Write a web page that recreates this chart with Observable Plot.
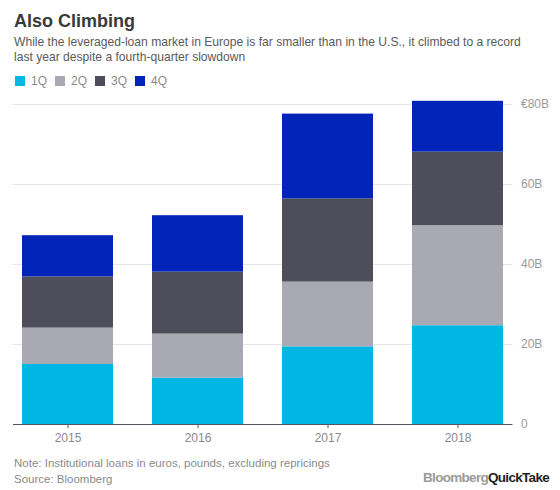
<!DOCTYPE html>
<html>
<head>
<meta charset="utf-8">
<script src="https://cdn.jsdelivr.net/npm/d3@7"></script>
<script src="https://cdn.jsdelivr.net/npm/@observablehq/plot@0.6"></script>
<style>
  html, body { margin: 0; padding: 0; background: #fff; }
  body { width: 560px; height: 490px; position: relative; overflow: hidden; font-family: "Liberation Sans", Arial, sans-serif; }
  .abs { position: absolute; white-space: nowrap; }
  #title { left: 14px; top: 11px; font-size: 18px; font-weight: bold; color: #3a3a3a; }
  #subtitle { left: 14px; top: 35px; font-size: 12.1px; line-height: 15px; color: #5a5a5a; }
  #legend { left: 15px; top: 74px; font-size: 12px; color: #8a8a8a; display: flex; align-items: center; }
  #legend .item { display: flex; align-items: center; margin-right: 8px; }
  #legend .sw { width: 10px; height: 10px; margin-right: 6px; }
  #chart { left: 0; top: 94px; }
  #note { left: 14px; top: 456px; font-size: 11.5px; line-height: 15.5px; color: #8a8a8a; }
  #logo { right: 11px; top: 470px; font-size: 13.5px; font-weight: bold; letter-spacing: -0.7px; }
  #logo .b { color: #9a9a9a; }
  #logo .q { color: #1e1e28; }
</style>
</head>
<body>
<div id="title" class="abs"></div>
<div id="subtitle" class="abs"></div>
<div id="legend" class="abs"></div>
<div id="chart" class="abs"></div>
<div id="note" class="abs"></div>
<div id="logo" class="abs"><span class="b">Bloomberg</span><span class="q">QuickTake</span></div>
<script>
const titleText = "Also Climbing";
const subtitleLines = [
  "While the leveraged-loan market in Europe is far smaller than in the U.S., it climbed to a record",
  "last year despite a fourth-quarter slowdown"
];
const noteLines = [
  "Note: Institutional loans in euros, pounds, excluding repricings",
  "Source: Bloomberg"
];

const years = ["2015", "2016", "2017", "2018"];
const quarters = ["1Q", "2Q", "3Q", "4Q"];
const colors = ["#00b7e4", "#a9a9b4", "#4e4e5a", "#0023b8"];
// Quarterly values, € billions, per year
const q1 = [15.0, 11.6, 19.4, 24.7];
const q2 = [9.1, 11.0, 16.2, 25.0];
const q3 = [12.8, 15.5, 20.8, 18.4];
const q4 = [10.3, 14.1, 21.2, 12.7];
const yTicks = [0, 20, 40, 60, 80];
const yTickLabels = ["0", "20B", "40B", "60B", "€80B"];

const series = [q1, q2, q3, q4];
const data = [];
years.forEach((yr, i) => {
  quarters.forEach((q, j) => data.push({year: yr, quarter: q, value: series[j][i]}));
});

document.getElementById("title").textContent = titleText;
document.getElementById("subtitle").innerHTML = subtitleLines.join("<br>");
document.getElementById("note").innerHTML = noteLines.join("<br>");

const legend = document.getElementById("legend");
quarters.forEach((q, i) => {
  const it = document.createElement("div");
  it.className = "item";
  it.innerHTML = `<span class="sw" style="background:${colors[i]}"></span><span>${q}</span>`;
  legend.appendChild(it);
});

const chart = Plot.plot({
  width: 560,
  height: 356,
  marginTop: 10,
  marginBottom: 26,
  marginLeft: 13,
  marginRight: 47.5,
  style: { fontFamily: "Liberation Sans, Arial, sans-serif", fontSize: "12px", background: "transparent" },
  x: { domain: years, paddingInner: 0.3, paddingOuter: 0.065, label: null },
  y: { domain: [0, 80], label: null },
  color: { domain: quarters, range: colors },
  marks: [
    Plot.gridY([20, 40, 60, 80], { stroke: "#e6e6ea", strokeOpacity: 1, strokeWidth: 1 }),
    Plot.barY(data, Plot.stackY({ x: "year", y: "value", fill: "quarter", order: null })),
    Plot.ruleY([0], { stroke: "#55555f", strokeWidth: 1.2 }),
    Plot.axisX({ tickSize: 4, tickPadding: 5, stroke: "#55555f", color: "#8a8a8a", fontSize: 12 }),
    Plot.axisY(yTicks, { anchor: "right", tickSize: 0, tickPadding: 8, textAnchor: "start", color: "#9a9a9a", fontSize: 12,
      tickFormat: (d) => yTickLabels[yTicks.indexOf(d)] })
  ]
});
document.getElementById("chart").appendChild(chart);
</script>
</body>
</html>
